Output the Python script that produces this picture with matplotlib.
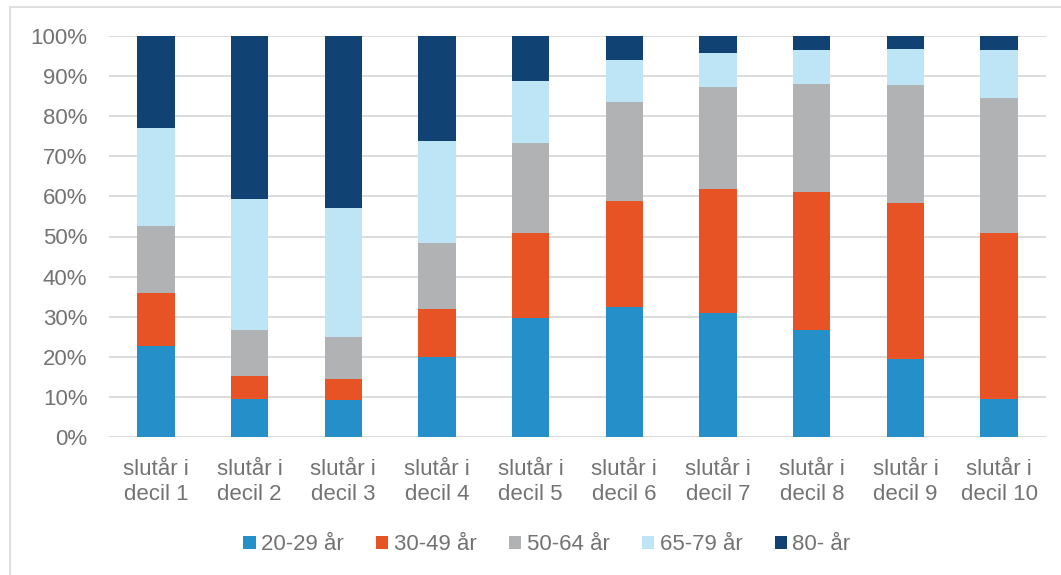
import numpy as np
import matplotlib.pyplot as plt
from matplotlib.patches import Rectangle

plt.rcParams['font.family'] = ['Liberation Sans', 'DejaVu Sans']

categories = ['slutår i\ndecil %d' % i for i in range(1, 11)]
series_names = ['20-29 år', '30-49 år', '50-64 år', '65-79 år', '80- år']
s20_29 = [22.8, 9.6, 9.3, 20.0, 29.8, 32.3, 30.9, 26.8, 19.5, 9.5]
s30_49 = [13.0, 5.7, 5.2, 12.0, 21.1, 26.6, 30.9, 34.4, 38.9, 41.4]
s50_64 = [16.7, 11.5, 10.4, 16.4, 22.4, 24.7, 25.5, 26.8, 29.3, 33.6]
s65_79 = [24.6, 32.5, 32.3, 25.5, 15.5, 10.3, 8.5, 8.4, 9.1, 11.9]
s80 = [22.9, 40.7, 42.8, 26.1, 11.2, 6.1, 4.2, 3.6, 3.2, 3.6]
colors = ['#258FCA', '#E85325', '#B1B2B4', '#BDE5F6', '#114274']

fig = plt.figure(figsize=(10.61, 5.75), dpi=100)
# chart frame
fig.patches.append(Rectangle((10 / 1061, -0.1), 1.2, 1 - 7 / 575 + 0.1,
                             transform=fig.transFigure, fill=False,
                             edgecolor='#D9D9D9', lw=1.2))
ax = fig.add_axes([109 / 1061, 1 - 437 / 575, (1046 - 109) / 1061, (437 - 36) / 575])

x = np.arange(len(categories))
bottom = np.zeros(len(categories))
for name, vals, c in zip(series_names, [s20_29, s30_49, s50_64, s65_79, s80], colors):
    ax.bar(x, vals, 0.4, bottom=bottom, color=c, label=name, zorder=3)
    bottom += np.array(vals)

ax.set_xlim(-0.5, len(categories) - 0.5)
ax.set_ylim(0, 100)
ax.set_yticks(np.arange(0, 101, 10))
ax.set_yticklabels(['%d%%' % v for v in range(0, 101, 10)])
ax.set_xticks(x)
ax.set_xticklabels(categories, linespacing=1.3)
ax.yaxis.grid(True, color='#D9D9D9', lw=1.3, zorder=0)
ax.tick_params(axis='both', length=0, labelsize=16, labelcolor='#737373')
ax.tick_params(axis='x', pad=15.5)
ax.tick_params(axis='y', pad=15.5)
for s in ax.spines.values():
    s.set_visible(False)

fig.legend(loc='center', bbox_to_anchor=(547 / 1061, 1 - 545 / 575), ncol=5,
           frameon=False, fontsize=16, labelcolor='#737373', handlelength=0.55,
           handleheight=0.55, handletextpad=0.25, columnspacing=1.45)

fig.savefig('out.png', dpi=100)
